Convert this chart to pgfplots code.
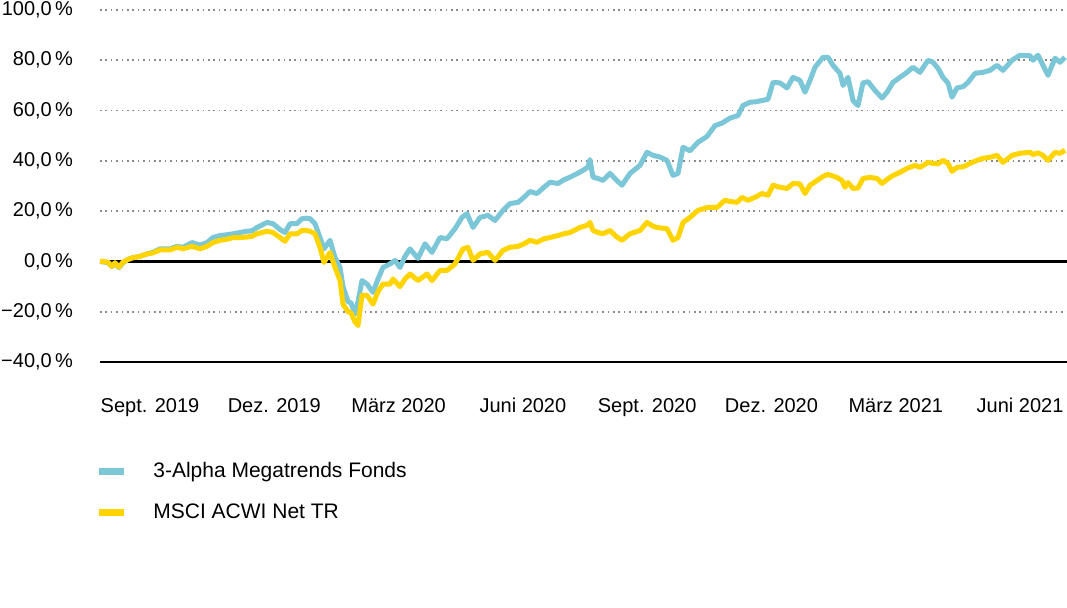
\documentclass[border=0pt]{standalone}
\usepackage{fontspec}
\setmainfont{Liberation Sans}
\usepackage{pgfplots}
\pgfplotsset{compat=1.18}
\definecolor{fundblue}{HTML}{7BC7D7}
\definecolor{msciyellow}{HTML}{FFD400}
\definecolor{gridgray}{HTML}{8A8A8A}
\begin{document}
\begin{tikzpicture}
\begin{axis}[
  name=ax,
  scale only axis,
  clip=false,
  width=483.5pt, height=176pt,
  xmin=100, xmax=1067, ymin=-40, ymax=100,
  axis line style={draw=none},
  major tick style={draw=none},
  ytick={-40,-20,0,20,40,60,80,100},
  yticklabels={{−40,0\,\%},{−20,0\,\%},{0,0\,\%},{20,0\,\%},{40,0\,\%},{60,0\,\%},{80,0\,\%},{100,0\,\%}},
  ymajorgrids,
  grid style={gridgray, line width=0.8pt, dash pattern=on 0.8pt off 1.9pt},
  xtick={150,274.3,398.6,522.9,647.2,771.5,895.8,1020.1},
  xticklabels={Sept. 2019,Dez. 2019,März 2020,Juni 2020,Sept. 2020,Dez. 2020,März 2021,Juni 2021},
  tick label style={font=\fontsize{10}{12}\selectfont},
  xticklabel style={yshift=-14.5pt},
  yticklabel style={xshift=-10pt},
  legend style={at={(0,-0.26)}, anchor=north west, xshift=-2.5pt, yshift=-2pt, draw=none, fill=none, inner sep=0pt,
    font=\fontsize{10.5}{12}\selectfont, row sep=8pt,
    /tikz/every odd column/.append style={column sep=11pt}},
  legend cell align=left,
  legend image code/.code={\draw[#1, line width=3.5pt, line cap=butt] (0pt,0pt) -- (12.5pt,0pt);},
]
\addplot[black, line width=1.5pt, forget plot] coordinates {(100,0)(1067,0)};
\addplot[black, line width=0.9pt, forget plot] coordinates {(100,-40)(1067,-40)};
\addplot[fundblue, line width=2.5pt, line join=round] coordinates {
(100,0)(108,-0.5)(112,-2)(115,-0.8)(119,-2.5)(123,-0.5)(128,0.8)(133,1.5)(140,2)(147,3)
(153,3.6)(160,5)(170,5)(177,6)(183,5.6)(192,7.5)(200,6.5)(207,7.5)(213,9.5)(220,10.3)
(227,10.6)(233,11)(240,11.5)(247,12)(252,12.2)(257,13.5)(262,14.5)(267,15.5)(273,15)(280,12.7)
(285,11.5)(290,15)(297,15)(302,17)(306,17.2)(310,17)(315,15)(320,9.5)(324,5)(330,8.4)
(335,1.6)(340,-2.4)(343,-10)(348,-16)(351,-16.5)(355,-21)(358,-16)(362,-7.6)(367,-9)(373,-12.3)
(378,-7)(383,-2.4)(390,-1)(395,0.4)(400,-2.4)(405,2)(410,5)(418,1.2)(425,7)(432,3.6)
(440,9.5)(447,9)(455,13)(462,17.5)(467,19)(473,13.5)(480,17.5)(488,18.3)(495,16.3)(503,20.3)
(510,23)(518,23.5)(524,25.5)(530,27.8)(537,27)(544,29.5)(550,31.5)(558,31)(564,32.5)(570,33.5)
(580,35.5)(588,37.5)(590,40.5)(593,33.5)(598,33)(603,32.2)(610,35)(616,32.5)(622,30.3)(630,35)
(640,38.2)(647,43.4)(653,42.2)(660,41.5)(667,40.2)(673,34.2)(678,35)(683,45.4)(690,44)(698,47.4)
(707,49.7)(715,54)(722,55)(730,57)(738,58)(743,62)(750,63.3)(756,63.5)(762,64)(768,64.5)
(773,71.2)(780,71)(787,69)(793,73.2)(800,72)(805,67.3)(810,72)(815,77.2)(823,81.2)(828,81.2)
(833,78)(840,74.8)(843,70)(848,73.2)(853,64)(858,62)(863,71)(868,71.5)(875,68)(882,65)
(887,67.3)(893,71.2)(900,73.2)(907,75.2)(913,77.2)(920,75.2)(928,80)(933,79.2)(938,76.8)(943,73.2)
(948,71)(952,65.3)(957,69)(963,69.5)(968,71.2)(975,74.8)(983,75.2)(990,76)(997,78)(1003,76)
(1012,80)(1020,82)(1030,81.8)(1033,80)(1038,82)(1043,78)(1048,74)(1055,80.8)(1060,79.2)(1065,81.2)
};
\addlegendentry{3-Alpha Megatrends Fonds}
\addplot[msciyellow, line width=2.5pt, line join=round] coordinates {
(100,0)(108,-0.3)(112,-2)(115,-0.5)(119,-2.3)(123,-0.3)(128,0.8)(133,1.5)(140,2)(147,3)
(153,3.4)(160,4.6)(170,4.6)(177,5.6)(183,5)(192,6)(200,5)(207,6)(213,7.5)(220,8.4)
(227,8.8)(233,9.5)(240,9.5)(247,9.7)(252,10)(257,11)(262,11.5)(267,12)(273,11.5)(280,9.5)
(285,8)(290,11)(297,11)(302,12.3)(306,12.3)(310,12)(315,11)(320,5.6)(324,-0.4)(330,3.6)
(335,-2.4)(340,-7.6)(343,-17)(348,-20)(351,-20.5)(355,-24)(358,-25.5)(362,-13.5)(367,-13.5)(373,-17)
(378,-12)(383,-9)(390,-9)(393,-7)(400,-10)(405,-7)(410,-5)(418,-7.6)(427,-5)(432,-7.6)
(440,-3.6)(447,-3.6)(455,-1)(463,5)(468,5.6)(473,0.4)(480,3)(488,3.6)(495,0.4)(503,4.4)
(510,5.6)(518,6)(524,7)(530,8.4)(537,7.6)(544,9)(550,9.5)(558,10.3)(564,11)(570,11.5)
(580,13.5)(588,14.5)(590,15.5)(593,12.3)(598,11.5)(603,11)(610,12.3)(616,10)(622,8.4)(630,11)
(640,12.3)(647,15.5)(653,14)(657,13.5)(667,13)(673,8.4)(678,9.5)(683,15.5)(690,17.5)(698,20.3)
(708,21.5)(717,21.5)(725,24.3)(731,23.8)(737,23.5)(742,25.5)(748,24.3)(755,25.5)(762,27)(768,26.3)
(773,30.3)(780,29.5)(787,29)(793,31)(800,30.8)(805,27)(810,30.3)(817,32.2)(823,33.8)(828,34.6)
(837,33.4)(842,32.2)(845,29.5)(848,31.4)(853,29)(858,29.2)(863,33)(870,33.4)(877,33)(882,31)
(887,32.6)(893,34.2)(900,35.4)(907,37)(915,38.2)(920,37.4)(928,39.4)(933,39)(938,38.8)(943,40.2)
(948,39)(952,35.8)(957,37.4)(963,37.6)(970,39)(977,40.2)(983,41)(990,41.4)(997,42.2)(1003,39.4)
(1012,42.2)(1020,43)(1030,43.4)(1033,42.5)(1038,43.2)(1043,42.2)(1048,40.2)(1055,43.4)(1060,43)(1065,44.2)
};
\addlegendentry{MSCI ACWI Net TR}
\end{axis}
\pgfresetboundingbox
\path[use as bounding box] ([shift={(-50pt,-123pt)}]ax.south west) rectangle ([shift={(0pt,5pt)}]ax.north east);
\end{tikzpicture}
\end{document}
